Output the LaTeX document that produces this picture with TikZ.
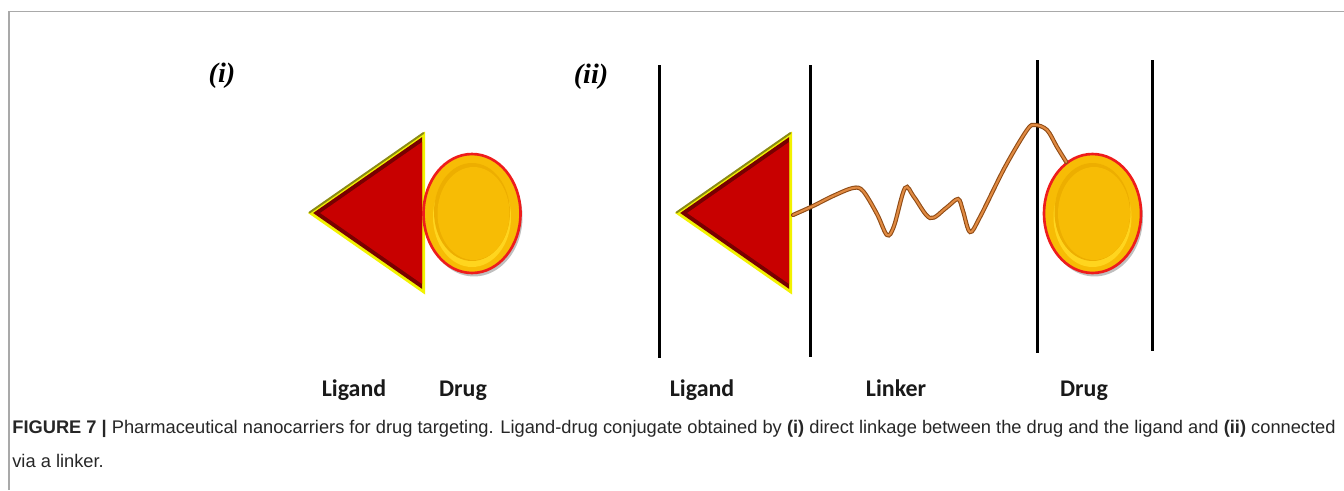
\documentclass[tikz,border=0pt]{standalone}
\usepackage{fontspec}
\setmainfont{Liberation Sans}
\newfontfamily\calibfont{Carlito}
\newfontfamily\romanfont{Liberation Serif}
\usetikzlibrary{shapes.geometric,shadows}
\definecolor{ligred}{HTML}{C80000}
\definecolor{ligdark}{HTML}{780000}
\definecolor{ligyellow}{HTML}{F2F200}
\definecolor{ligolive}{HTML}{8A8A14}
\definecolor{druggold}{HTML}{F7BC05}
\definecolor{druglight}{HTML}{FFD51E}
\definecolor{drugshade}{HTML}{EDAE00}
\definecolor{drugrim}{HTML}{EE1C1C}
\definecolor{linkbrown}{HTML}{8E4A14}
\definecolor{linkorange}{HTML}{E08A42}
\definecolor{framegray}{HTML}{A9A9A9}
\tikzset{
drug/.style={ellipse, draw=drugrim, line width=1.5pt, fill=druggold,
  minimum width=1.94cm, minimum height=2.38cm, inner sep=0pt,
  drop shadow={shadow xshift=0.04cm, shadow yshift=-0.07cm, opacity=0.25, fill=black},
  path picture={
    \fill[druglight] ([yshift=-0.07cm]path picture bounding box.center) ellipse (0.78cm and 1.0cm);
    \fill[drugshade] ([yshift=0.03cm]path picture bounding box.center) ellipse (0.76cm and 0.98cm);
    \fill[druggold] ([xshift=0.03cm,yshift=0.0cm]path picture bounding box.center) ellipse (0.72cm and 0.93cm);
  }},
wall/.style={line width=1.7pt, black},
linkerback/.style={draw=linkbrown, line width=2.4pt, line cap=round},
linkerfront/.style={draw=linkorange, line width=1.2pt, line cap=round},
lbl/.style={font=\calibfont\bfseries\fontsize{13.6}{16}\selectfont, text=black!90, inner sep=0pt, anchor=base},
tag/.style={font=\romanfont\bfseries\itshape\fontsize{16}{19}\selectfont, inner sep=0pt}
}
% bevelled ligand triangle, apex at (#1,#2)
\newcommand{\ligtri}[2]{%
\begin{scope}[shift={(#1,#2)}]
  \fill[ligyellow] (0,0) -- (117,-81.5) -- (117,81.5) -- cycle;
  \draw[ligolive, line width=1.1pt, line cap=round] (1.5,-0.5) -- (115.5,-80);
  \fill[ligdark] (5.2,0) -- (114,-75.8) -- (114,75.8) -- cycle;
  \fill[ligred] (12.2,0) -- (114,-70.9) -- (114,70.9) -- cycle;
\end{scope}}

\begin{document}
\begin{tikzpicture}[x=0.02cm, y=-0.02cm]
    \useasboundingbox (0,0) rectangle (1344,490);
    % frame
    \draw[framegray, line width=0.85pt] (9,490) -- (9,11.5) -- (1344,11.5);
    % panel tags
    \node [tag] (tagi) at (222,76) {(i)};
    \node [tag] (tagii) at (591,77) {(ii)};
    % (i) direct linkage
    \ligtri{308}{213}
    \node [drug] (drugA) at (472,213.5) {};
    \node [lbl] (ligandA) at (354,396) {Ligand};
    \node [lbl] (drugAlbl) at (463,396) {Drug};
    % (ii) linked via a linker
    \draw [wall] (659,65) -- (659,358);
    \draw [wall] (810,65) -- (810,357);
    \draw [wall] (1037,60) -- (1037,353);
    \draw [wall] (1152,60) -- (1152,351);
    \ligtri{675}{213}
    \coordinate (ligB) at (793,215);
    \node [drug] (drugB) at (1092.5,213.5) {};
    \node [lbl] (ligandB) at (702,396) {Ligand};
    \node [lbl] (linkerB) at (896,396) {Linker};
    \node [lbl] (drugBlbl) at (1084,396) {Drug};
    % linker chain
    \foreach \sty in {linkerback,linkerfront}
      \draw [\sty] plot [smooth, tension=0.55] coordinates {(ligB) (813,206) (833,196) (853,188) (863,191)
        (877,214) (887,235) (894,226) (905,188) (914,197) (930,218) (946,208) (958,199) (963,211)
        (970,232) (980,217) (1005,167) (1027,130) (1035,125) (1047,130) (1057,147) (drugB.117)};
    % caption
    \node [anchor=base west, inner sep=0pt, font=\fontsize{10.4}{12}\selectfont, text=black!85] (caption)
      at (12,433) {\textbf{FIGURE 7 |} Pharmaceutical nanocarriers for drug targeting. Ligand-drug conjugate obtained by \textbf{(i)} direct linkage between the drug and the ligand and \textbf{(ii)} connected};
    \node [anchor=base west, inner sep=0pt, font=\fontsize{10.4}{12}\selectfont, text=black!85] (caption2)
      at (12,467) {via a linker.};
\end{tikzpicture}
\end{document}
